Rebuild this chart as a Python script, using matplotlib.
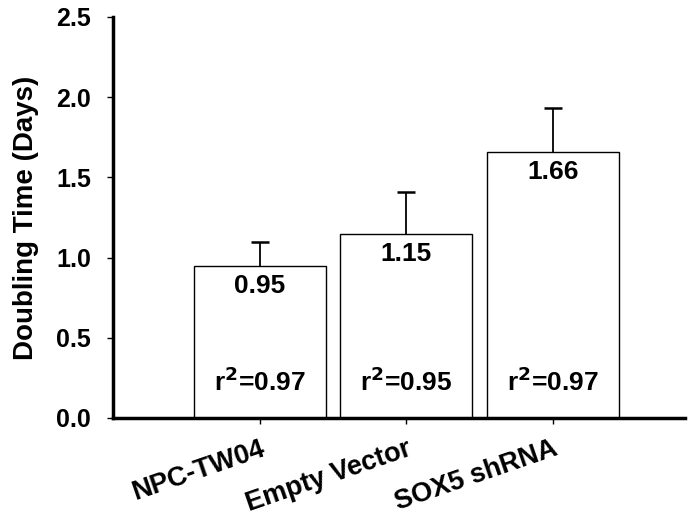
from matplotlib import pyplot as plt
import numpy as np

plt.rcParams['font.family'] = ['Liberation Sans', 'DejaVu Sans']
plt.rcParams['font.weight'] = 'bold'

groups = ["NPC-TW04", "Empty Vector", "SOX5 shRNA"]
doubling_time = [0.95, 1.15, 1.66]
errors_up = [0.15, 0.26, 0.27]
r_squared = ["0.97", "0.95", "0.97"]
y_ticks = [0.0, 0.5, 1.0, 1.5, 2.0, 2.5]

fig = plt.figure(figsize=(6.89, 5.24), dpi=100)
ax = fig.add_axes([0.164, 0.2023, 0.830, 0.7653])

x = np.arange(len(groups))
tops = np.array(doubling_time) + np.array(errors_up)

ax.bar(x, doubling_time, width=0.9, color="white", edgecolor="black", linewidth=1.0, zorder=2)
# one-sided error bars: stem from bar top up, cap only at the top
ax.vlines(x, doubling_time, tops, color="black", linewidth=1.3, zorder=1)
ax.plot(x, tops, linestyle="none", marker="_", markersize=13, markeredgewidth=1.8,
        color="black", zorder=1)

for i in range(len(x)):
    ax.text(x[i], doubling_time[i] - 0.125, f"{doubling_time[i]:.2f}", ha="center", va="center",
            fontsize=19, fontweight="bold")
    ax.text(x[i], 0.225, r"r$^{\mathbf{2}}$=" + r_squared[i], ha="center", va="center",
            fontsize=19, fontweight="bold")

ax.set_xlim(-1.0, 2.9)
ax.set_ylim(0, 2.5)
ax.set_yticks(y_ticks)
ax.set_yticklabels([f"{v:.1f}" for v in y_ticks], fontsize=18, fontweight="bold")
ax.set_xticks(x)
ax.set_xticklabels(groups, rotation=19, ha="right", va="top", rotation_mode="anchor",
                   fontsize=19.5, fontweight="bold")
ax.set_ylabel("Doubling Time (Days)", fontsize=20, fontweight="bold", labelpad=12)

ax.spines["top"].set_visible(False)
ax.spines["right"].set_visible(False)
ax.spines["left"].set_linewidth(2.5)
ax.spines["bottom"].set_linewidth(2.5)
ax.tick_params(axis="y", length=4, width=1, pad=12)
ax.tick_params(axis="x", length=4, width=1, pad=9)

fig.savefig("out.png", dpi=100)
